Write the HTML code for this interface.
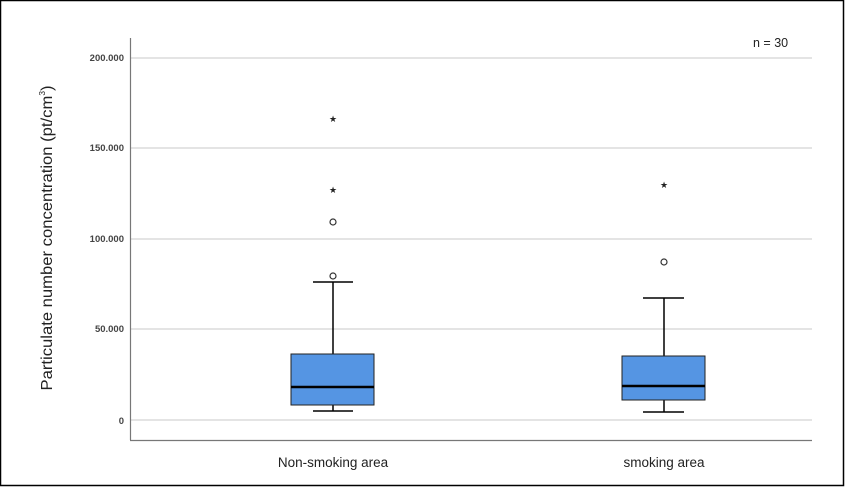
<!DOCTYPE html>
<html><head><style>
body{margin:0;background:#fff}
svg{display:block}
text{font-family:"Liberation Sans",sans-serif}
</style></head><body>
<svg width="845" height="487" viewBox="0 0 845 487" xmlns="http://www.w3.org/2000/svg">
<rect x="0.5" y="0.5" width="843" height="485" fill="#fff" stroke="#000" stroke-width="1.5"/>
<g stroke="#d4d4d4" stroke-width="1.2">
<line x1="131" y1="58" x2="812" y2="58"/>
<line x1="131" y1="148" x2="812" y2="148"/>
<line x1="131" y1="239" x2="812" y2="239"/>
<line x1="131" y1="329" x2="812" y2="329"/>
<line x1="131" y1="420" x2="812" y2="420"/>
</g>
<line x1="130.5" y1="38" x2="130.5" y2="440" stroke="#777" stroke-width="1.2"/>
<line x1="130" y1="440.5" x2="812" y2="440.5" stroke="#777" stroke-width="1.2"/>
<g font-size="9.5" font-weight="bold" fill="#444" text-anchor="end">
<text x="124" y="61">200.000</text>
<text x="124" y="151">150.000</text>
<text x="124" y="242">100.000</text>
<text x="124" y="332">50.000</text>
<text x="124" y="424">0</text>
</g>
<text transform="translate(52,238) rotate(-90)" font-size="16" fill="#222" text-anchor="middle" textLength="305" lengthAdjust="spacingAndGlyphs">Particulate number concentration (pt/cm<tspan font-size="8" dy="-7">3</tspan><tspan dy="7">)</tspan></text>
<text x="753" y="47" font-size="12.5" fill="#222">n = 30</text>
<g stroke="#000" stroke-width="1.5" fill="none">
<line x1="333" y1="282" x2="333" y2="354"/><line x1="313" y1="282" x2="353" y2="282"/>
<line x1="333" y1="405" x2="333" y2="411"/><line x1="313" y1="411" x2="353" y2="411"/>
<line x1="664" y1="298" x2="664" y2="356"/><line x1="643" y1="298" x2="684" y2="298"/>
<line x1="664" y1="400" x2="664" y2="412"/><line x1="643" y1="412" x2="684" y2="412"/>
</g>
<rect x="291" y="354" width="83" height="51" fill="#5595e3" stroke="#222" stroke-width="1"/>
<rect x="622" y="356" width="83" height="44" fill="#5595e3" stroke="#222" stroke-width="1"/>
<line x1="291" y1="387" x2="374" y2="387" stroke="#000" stroke-width="2.5"/>
<line x1="622" y1="386" x2="705" y2="386" stroke="#000" stroke-width="2.5"/>
<g fill="none" stroke="#333" stroke-width="1.2">
<circle cx="333" cy="222" r="3"/><circle cx="333" cy="276" r="3"/><circle cx="664" cy="262" r="3"/>
</g>
<g font-size="9" fill="#222" text-anchor="middle">
<text x="333" y="122">★</text><text x="333" y="193">★</text><text x="664" y="188">★</text>
</g>
<g font-size="13.5" fill="#222" text-anchor="middle">
<text x="333" y="467">Non-smoking area</text>
<text x="664" y="467">smoking area</text>
</g>
</svg>
</body></html>
